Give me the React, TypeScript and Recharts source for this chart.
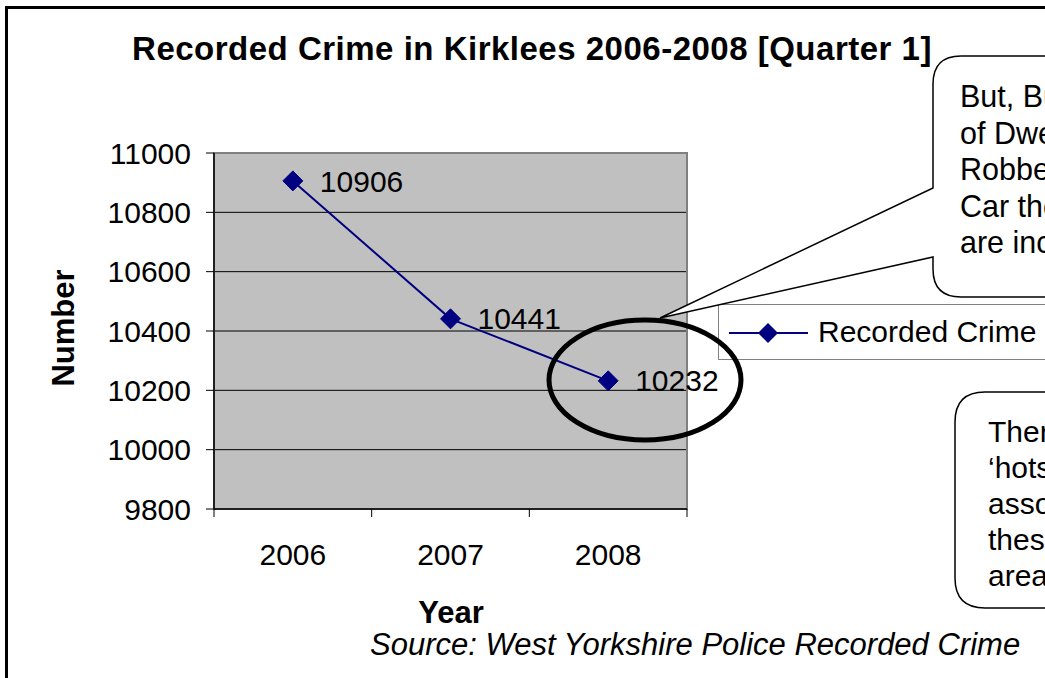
import React from "react";
import {
  LineChart,
  Line,
  XAxis,
  YAxis,
  CartesianGrid,
  ReferenceArea,
  LabelList,
  Legend,
} from "recharts";

const years = ["2006", "2007", "2008"];
const recordedCrime = [10906, 10441, 10232];
const yTicks = [9800, 10000, 10200, 10400, 10600, 10800, 11000];
const gridValues = [10000, 10200, 10400, 10600, 10800];

const calloutTop = ["But, Burglary", "of Dwelling,", "Robbery and", "Car theft", "are increasing"];
const calloutBottom = ["There are", "\u2018hotspots\u2019", "associated with", "these", "areas"];

const data = years.map((year, i) => ({ year, crime: recordedCrime[i] }));

const FONT = '"Liberation Sans", Arial, sans-serif';
const NAVY = "#000080";
const X_TICK_MARGIN = 35;
const X_TICK_LEN = 8;

function Diamond(props: any) {
  const { cx, cy } = props;
  if (cx == null || cy == null) return null;
  const r = 10;
  return (
    <polygon
      points={`${cx},${cy - r} ${cx + r},${cy} ${cx},${cy + r} ${cx - r},${cy}`}
      fill={NAVY}
      stroke={NAVY}
    />
  );
}

// category label centred in its band, with Excel-style tick marks on the band edges
function YearTick(props: any) {
  const { x, y, payload, index, visibleTicksCount } = props;
  const half = payload?.offset ?? 0;
  const axisY = y - X_TICK_MARGIN;
  const isLast = index === (visibleTicksCount ?? years.length) - 1;
  return (
    <g>
      <line x1={x - half} y1={axisY} x2={x - half} y2={axisY + X_TICK_LEN} stroke="#000" />
      {isLast && (
        <line x1={x + half} y1={axisY} x2={x + half} y2={axisY + X_TICK_LEN} stroke="#000" />
      )}
      <text x={x} y={y} dy="0.71em" textAnchor="middle" fontSize={30} fill="#000" fontFamily={FONT}>
        {payload.value}
      </text>
    </g>
  );
}

function LegendBox() {
  return (
    <div style={styles.legendInner}>
      <svg width={92} height={54}>
        <line x1={10} y1={28} x2={89} y2={28} stroke={NAVY} strokeWidth={2} />
        <polygon points="49,18 59,28 49,38 39,28" fill={NAVY} />
      </svg>
      <span style={styles.legendText}>Recorded Crime</span>
    </div>
  );
}

export default function App() {
  return (
    <div style={styles.page}>
      <div style={styles.frame} />
      <LineChart
        width={1045}
        height={678}
        data={data}
        margin={{ top: 153, right: 358, bottom: 168, left: 44 }}
        style={{ position: "absolute", left: 0, top: 0 }}
      >
        <CartesianGrid
          vertical={false}
          horizontalValues={gridValues}
          stroke="#000"
          fill="#C0C0C0"
          fillOpacity={1}
        />
        <ReferenceArea y1={9800} y2={11000} fill="none" stroke="#808080" strokeWidth={2} />
        <XAxis
          dataKey="year"
          type="category"
          scale="band"
          height={1}
          tickSize={0}
          tickMargin={X_TICK_MARGIN}
          interval={0}
          axisLine={{ stroke: "#000", strokeWidth: 1.5 }}
          tickLine={false}
          tick={<YearTick />}
        />
        <YAxis
          width={170}
          domain={[9800, 11000]}
          ticks={yTicks}
          interval={0}
          tickSize={8}
          tickMargin={15}
          axisLine={{ stroke: "#000", strokeWidth: 1.5 }}
          tickLine={{ stroke: "#000" }}
          tick={{ fontSize: 30, fill: "#000", fontFamily: FONT }}
        />
        <Legend
          layout="horizontal"
          verticalAlign="middle"
          align="center"
          content={LegendBox}
          wrapperStyle={styles.legend}
        />
        <Line
          name="Recorded Crime"
          dataKey="crime"
          stroke={NAVY}
          strokeWidth={2}
          dot={<Diamond />}
          activeDot={false}
          isAnimationActive={false}
        >
          <LabelList
            dataKey="crime"
            position="right"
            offset={27}
            style={{ fontSize: 30, fill: "#000", fontFamily: FONT }}
          />
        </Line>
      </LineChart>

      <svg width={1045} height={678} style={styles.overlay}>
        <text
          x={532}
          y={60}
          textAnchor="middle"
          fontSize={33}
          fontWeight="bold"
          letterSpacing={0.5}
          fontFamily={FONT}
        >
          Recorded Crime in Kirklees 2006-2008 [Quarter 1]
        </text>
        <text
          x={74}
          y={328}
          textAnchor="middle"
          fontSize={31}
          fontWeight="bold"
          fontFamily={FONT}
          transform="rotate(-90 74 328)"
        >
          Number
        </text>
        <text x={451} y={623} textAnchor="middle" fontSize={31} fontWeight="bold" fontFamily={FONT}>
          Year
        </text>
        <text x={370} y={655} fontSize={31} fontStyle="italic" fontFamily={FONT}>
          Source: West Yorkshire Police Recorded Crime
        </text>

        <ellipse cx={645} cy={380} rx={96} ry={60} fill="none" stroke="#000" strokeWidth={5} />

        <path
          d="M 961 56 H 1200 V 297 H 961 Q 933 297 933 269 V 257 L 660 318 L 933 188 V 84 Q 933 56 961 56 Z"
          fill="#fff"
          stroke="#000"
          strokeWidth={1.5}
        />
        {calloutTop.map((line, i) => (
          <text key={line} x={960} y={107 + i * 36.5} fontSize={30.5} fontFamily={FONT}>
            {line}
          </text>
        ))}

        <path
          d="M 985 392 H 1200 V 608 H 985 Q 955 608 955 578 V 422 Q 955 392 985 392 Z"
          fill="#fff"
          stroke="#000"
          strokeWidth={1.5}
        />
        {calloutBottom.map((line, i) => (
          <text key={line} x={988} y={442 + i * 36} fontSize={30} fontFamily={FONT}>
            {line}
          </text>
        ))}
      </svg>
    </div>
  );
}

const styles: Record<string, React.CSSProperties> = {
  page: {
    position: "fixed",
    left: 0,
    top: 0,
    width: 1045,
    height: 678,
    overflow: "hidden",
    background: "#fff",
  },
  frame: {
    position: "absolute",
    left: 5,
    top: 6,
    width: 1200,
    height: 669,
    border: "3px solid #000",
  },
  overlay: {
    position: "absolute",
    left: 0,
    top: 0,
    pointerEvents: "none",
  },
  legend: {
    position: "absolute",
    left: 718,
    top: 304,
    width: 400,
    height: 56,
    border: "1.5px solid #808080",
    background: "#fff",
    boxSizing: "border-box",
  },
  legendInner: {
    display: "flex",
    alignItems: "center",
    height: "100%",
    paddingLeft: 0,
  },
  legendText: {
    fontFamily: FONT,
    fontSize: 30,
    marginLeft: 7,
    color: "#000",
  },
};
